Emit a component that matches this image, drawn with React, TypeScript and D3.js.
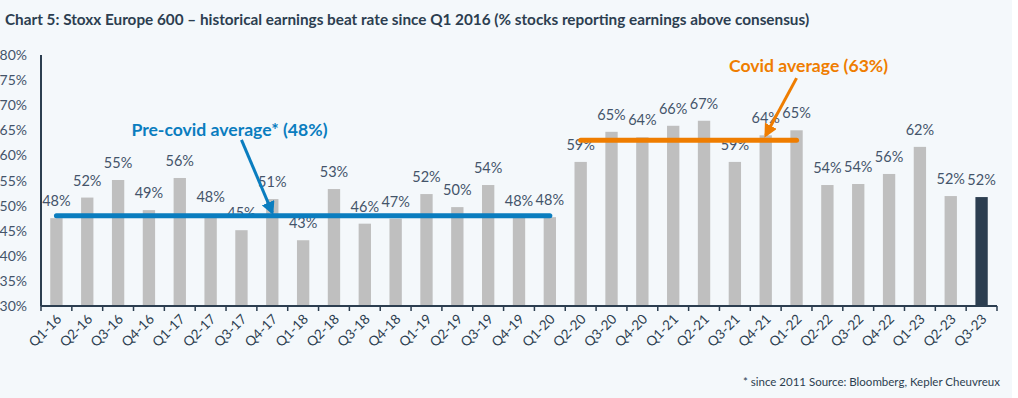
import React, { useEffect, useRef } from 'react';
import * as d3 from 'd3';

// Stoxx Europe 600 earnings beat rate, Q1-16 .. Q3-23
const quarters = [
  'Q1-16', 'Q2-16', 'Q3-16', 'Q4-16',
  'Q1-17', 'Q2-17', 'Q3-17', 'Q4-17',
  'Q1-18', 'Q2-18', 'Q3-18', 'Q4-18',
  'Q1-19', 'Q2-19', 'Q3-19', 'Q4-19',
  'Q1-20', 'Q2-20', 'Q3-20', 'Q4-20',
  'Q1-21', 'Q2-21', 'Q3-21', 'Q4-21',
  'Q1-22', 'Q2-22', 'Q3-22', 'Q4-22',
  'Q1-23', 'Q2-23', 'Q3-23',
];

const beatRate = [
  47.5, 51.6, 55.1, 49.1,
  55.5, 48.3, 45.1, 51.3,
  43.1, 53.3, 46.4, 47.4,
  52.3, 49.7, 54.1, 47.6,
  47.7, 58.7, 64.7, 63.6,
  65.9, 66.9, 58.7, 64.0,
  65.0, 54.1, 54.3, 56.3,
  61.7, 51.9, 51.7,
];

const yTicks = [30, 35, 40, 45, 50, 55, 60, 65, 70, 75, 80];

const preCovid = { avg: 48, from: 'Q1-16', to: 'Q1-20', label: 'Pre-covid average* (48%)' };
const covid = { avg: 63, from: 'Q2-20', to: 'Q1-22', label: 'Covid average (63%)' };

const W = 1018;
const H = 398;
const PLOT_LEFT = 41;
const PLOT_RIGHT = 997;
const PLOT_TOP = 55;
const PLOT_BOTTOM = 306;

const FONT = 'Lato, "Noto Sans", sans-serif';
const TEXT = '#44546a';
const DARK = '#2c3e50';
const GREY_BAR = '#bfbfbf';
const BLUE = '#0a7dbf';
const ORANGE = '#ef7d00';

const App = () => {
  const svgRef = useRef<SVGSVGElement>(null);

  useEffect(() => {
    document.body.style.margin = '0';
    const svg = d3.select(svgRef.current).attr('width', W).attr('height', H);
    svg.selectAll('*').remove();

    svg.append('rect').attr('width', W).attr('height', H).attr('fill', '#ffffff');
    svg.append('rect').attr('width', 1012).attr('height', H).attr('fill', '#f4f8fb');

    const defs = svg.append('defs');
    [['arrow-blue', BLUE], ['arrow-orange', ORANGE]].forEach(([id, c]) => {
      defs
        .append('marker')
        .attr('id', id)
        .attr('viewBox', '0 0 10 10')
        .attr('refX', 8)
        .attr('refY', 5)
        .attr('markerWidth', 4.5)
        .attr('markerHeight', 4.5)
        .attr('orient', 'auto')
        .append('path')
        .attr('d', 'M0,0 L10,5 L0,10 Z')
        .attr('fill', c);
    });

    const x = d3
      .scaleBand<string>()
      .domain(quarters)
      .range([PLOT_LEFT, PLOT_RIGHT])
      .paddingInner(0.6)
      .paddingOuter(0.3);

    const y = d3.scaleLinear().domain([30, 80]).range([PLOT_BOTTOM, PLOT_TOP]);
    const cx = (q: string) => (x(q) ?? 0) + x.bandwidth() / 2;

    // Title
    svg
      .append('text')
      .attr('x', 5)
      .attr('y', 25)
      .attr('font-family', FONT)
      .attr('font-weight', 700)
      .attr('font-size', '15.3px')
      .attr('fill', DARK)
      .text(
        'Chart 5: Stoxx Europe 600 \u2013 historical earnings beat rate since Q1 2016 (% stocks reporting earnings above consensus)',
      );

    // Y tick labels
    svg
      .append('g')
      .selectAll('text')
      .data(yTicks)
      .enter()
      .append('text')
      .attr('x', 27)
      .attr('y', (d) => y(d) + 5)
      .attr('text-anchor', 'end')
      .attr('font-family', FONT)
      .attr('font-size', '14px')
      .attr('fill', TEXT)
      .text((d) => `${d}%`);

    // Bars
    svg
      .append('g')
      .selectAll('rect')
      .data(quarters)
      .enter()
      .append('rect')
      .attr('x', (q) => x(q) ?? 0)
      .attr('y', (_q, i) => y(beatRate[i]))
      .attr('width', x.bandwidth())
      .attr('height', (_q, i) => PLOT_BOTTOM - y(beatRate[i]))
      .attr('fill', (_q, i) => (i === quarters.length - 1 ? DARK : GREY_BAR));

    // Bar value labels
    svg
      .append('g')
      .selectAll('text')
      .data(quarters)
      .enter()
      .append('text')
      .attr('x', (q) => cx(q))
      .attr('y', (_q, i) => y(beatRate[i]) - 12)
      .attr('text-anchor', 'middle')
      .attr('font-family', FONT)
      .attr('font-size', '14.5px')
      .attr('fill', TEXT)
      .text((_q, i) => `${Math.round(beatRate[i])}%`);

    // Axes
    svg
      .append('line')
      .attr('x1', PLOT_LEFT)
      .attr('x2', PLOT_LEFT)
      .attr('y1', PLOT_TOP)
      .attr('y2', PLOT_BOTTOM)
      .attr('stroke', DARK)
      .attr('stroke-width', 2);
    svg
      .append('line')
      .attr('x1', PLOT_LEFT)
      .attr('x2', PLOT_RIGHT)
      .attr('y1', PLOT_BOTTOM)
      .attr('y2', PLOT_BOTTOM)
      .attr('stroke', DARK)
      .attr('stroke-width', 2);
    const boundaries = d3.range(quarters.length + 1).map((i) => PLOT_LEFT + i * x.step());
    svg
      .append('g')
      .selectAll('line')
      .data(boundaries)
      .enter()
      .append('line')
      .attr('x1', (d) => d)
      .attr('x2', (d) => d)
      .attr('y1', PLOT_BOTTOM)
      .attr('y2', PLOT_BOTTOM + 5)
      .attr('stroke', DARK)
      .attr('stroke-width', 1.5);

    // X labels, rotated
    svg
      .append('g')
      .selectAll('text')
      .data(quarters)
      .enter()
      .append('text')
      .attr('transform', (q) => `translate(${cx(q) + 6},${PLOT_BOTTOM + 14}) rotate(-45)`)
      .attr('text-anchor', 'end')
      .attr('font-family', FONT)
      .attr('font-size', '13.5px')
      .attr('fill', DARK)
      .text((q) => q);

    // Average lines + callouts
    const drawAvg = (
      a: { avg: number; from: string; to: string; label: string },
      color: string,
      marker: string,
      labelPos: [string, number, number],
      arrowFrom: [string, number],
      arrowTo: [string, number],
    ) => {
      svg
        .append('line')
        .attr('x1', cx(a.from))
        .attr('x2', cx(a.to))
        .attr('y1', y(a.avg))
        .attr('y2', y(a.avg))
        .attr('stroke', color)
        .attr('stroke-width', 5)
        .attr('stroke-linecap', 'round');
      svg
        .append('text')
        .attr('x', cx(labelPos[0]) + labelPos[2])
        .attr('y', y(labelPos[1]))
        .attr('text-anchor', 'middle')
        .attr('font-family', FONT)
        .attr('font-weight', 700)
        .attr('font-size', '17.6px')
        .attr('fill', color)
        .text(a.label);
      svg
        .append('line')
        .attr('x1', cx(arrowFrom[0]))
        .attr('y1', y(arrowFrom[1]))
        .attr('x2', cx(arrowTo[0]))
        .attr('y2', y(arrowTo[1]))
        .attr('stroke', color)
        .attr('stroke-width', 3)
        .attr('marker-end', `url(#${marker})`);
    };

    drawAvg(preCovid, BLUE, 'arrow-blue', ['Q3-17', 63.9, -12], ['Q3-17', 63.1], ['Q4-17', 48.6]);
    drawAvg(covid, ORANGE, 'arrow-orange', ['Q1-22', 76.6, 12], ['Q1-22', 75.4], ['Q4-21', 64]);

    // Footnote
    svg
      .append('text')
      .attr('x', 1000)
      .attr('y', 386)
      .attr('text-anchor', 'end')
      .attr('font-family', FONT)
      .attr('font-size', '11.5px')
      .attr('fill', DARK)
      .text('* since 2011 Source: Bloomberg, Kepler Cheuvreux');
  }, []);

  return <svg ref={svgRef} style={{ display: 'block' }} />;
};

export default App;
